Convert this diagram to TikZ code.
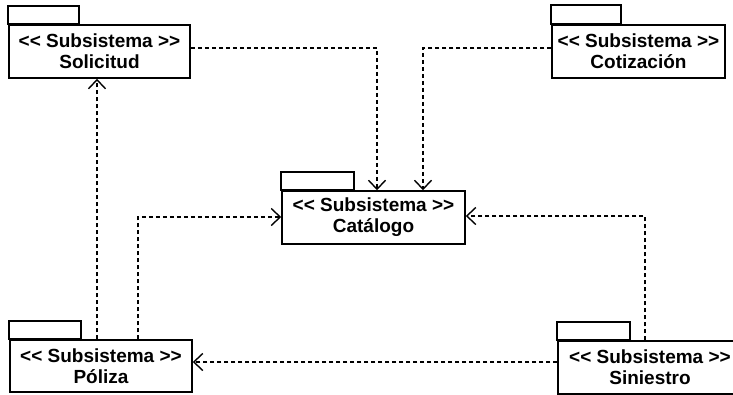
\documentclass[tikz,border=0pt]{standalone}
\usepackage{fontspec}
\setmainfont{Liberation Sans}
\usetikzlibrary{arrows.meta}
\newcommand{\stereo}[1]{<\kern0pt<\ Subsistema >\kern0pt>\\#1}
\begin{document}
\begin{tikzpicture}[x=1pt,y=-1pt,
  pkg/.style={draw, line width=1.5pt, inner sep=0pt, minimum height=53pt, align=center,
    font=\fontsize{19}{21}\selectfont\bfseries},
  tabline/.style={draw, line width=1.7pt},
  dep/.style={line width=1.4pt, dash pattern=on 4pt off 3pt,
    -{Straight Barb[length=9pt,width=17pt,line width=1.4pt]}}]
\useasboundingbox (0,0) rectangle (733,394);
\fill[white] (0,0) rectangle (733,394);
% packages
\node[pkg, minimum width=181pt] (sol) at (99.5,51.5) {\stereo{Solicitud}};
\node[pkg, minimum width=173pt] (cot) at (638.5,51.5) {\stereo{Cotización}};
\node[pkg, minimum width=183pt] (cat) at (373.5,217.5) {\stereo{Catálogo}};
\node[pkg, minimum width=182pt, minimum height=52pt] (pol) at (101,366) {\stereo{Póliza}};
\node[pkg, minimum width=184pt] (sin) at (650,367.5) {\stereo{Siniestro}};
% tabs
\draw[tabline] (sol.north west) rectangle ++(71,-18);
\draw[tabline] (cot.north west) rectangle ++(70,-19);
\draw[tabline] (cat.north west) rectangle ++(73,-18);
\draw[tabline] (pol.north west) rectangle ++(72,-18);
\draw[tabline] (sin.north west) rectangle ++(73,-18);
% bend points
\coordinate (b1) at (377,48);
\coordinate (b2) at (423,48);
\coordinate (b3) at (97,0);
\coordinate (b4) at (138,217);
\coordinate (b5) at (645,216);
\coordinate (b6) at (0,362);
% dependencies
\draw[dep] (sol.east |- b1) -| (cat.north -| b1);
\draw[dep] (cot.west |- b2) -| (cat.north -| b2);
\draw[dep] (pol.north -| b3) -- (sol.south -| b3);
\draw[dep] (pol.north -| b4) |- (cat.west |- b4);
\draw[dep] (sin.north -| b5) |- (cat.east |- b5);
\draw[dep] (sin.west |- b6) -- (pol.east |- b6);
\end{tikzpicture}
\end{document}
